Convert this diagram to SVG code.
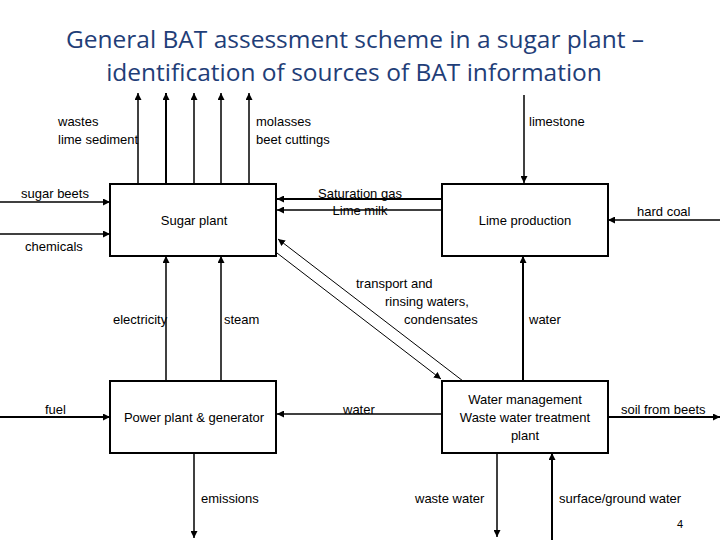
<svg xmlns="http://www.w3.org/2000/svg" width="720" height="540" viewBox="0 0 720 540">
<defs>
<marker id="a" viewBox="0 0 10 10" refX="10" refY="5" markerWidth="7" markerHeight="7" markerUnits="userSpaceOnUse" orient="auto"><path d="M0,0 L10,5 L0,10 z" fill="#000"/></marker>
<style>
.t{font-family:"Liberation Sans",Arial,sans-serif;font-size:13px;fill:#000}
.h{font-family:"Open Sans","Liberation Sans",sans-serif;font-size:24.5px;fill:#1f3e78;text-anchor:middle}
.b{fill:#fff;stroke:#000;stroke-width:2}
.c line{stroke:#000;stroke-width:1.5;marker-end:url(#a)}
.m{text-anchor:middle}
</style>
</defs>
<rect width="720" height="540" fill="#fff"/>
<text class="h" x="355" y="48">General BAT assessment scheme in a sugar plant –</text>
<text class="h" x="354" y="81">identification of sources of BAT information</text>
<g id="connectors" class="c">
<line x1="138" y1="183" x2="138" y2="93"/>
<line x1="166" y1="183" x2="166" y2="93" style="stroke-width:2"/>
<line x1="194" y1="183" x2="194" y2="93"/>
<line x1="221" y1="183" x2="221" y2="93"/>
<line x1="249" y1="183" x2="249" y2="93"/>
<line x1="524" y1="95" x2="524" y2="183"/>
<line x1="0" y1="202" x2="110" y2="202"/>
<line x1="0" y1="234" x2="110" y2="234"/>
<line x1="442" y1="199" x2="277" y2="199" style="stroke-width:2"/>
<line x1="442" y1="210" x2="277" y2="210"/>
<line x1="720" y1="220" x2="608" y2="220"/>
<line x1="166" y1="381" x2="166" y2="256"/>
<line x1="221" y1="381" x2="221" y2="256"/>
<line x1="523" y1="381" x2="523" y2="256" style="stroke-width:2"/>
<line x1="463" y1="381" x2="278" y2="239" style="stroke-width:1"/>
<line x1="277" y1="253" x2="441" y2="379" style="stroke-width:1"/>
<line x1="0" y1="417" x2="110" y2="417" style="stroke-width:2"/>
<line x1="442" y1="414" x2="277" y2="414"/>
<line x1="608" y1="417" x2="720" y2="417" style="stroke-width:2"/>
<line x1="194" y1="453" x2="194" y2="538"/>
<line x1="497" y1="453" x2="497" y2="537"/>
<line x1="552" y1="540" x2="552" y2="453" style="stroke-width:2"/>
</g>
<g id="sugar"><rect class="b" x="110" y="184" width="166" height="72"/><text class="t m" x="194" y="225">Sugar plant</text></g>
<g id="lime"><rect class="b" x="442" y="184" width="166" height="72"/><text class="t m" x="525" y="225">Lime production</text></g>
<g id="power"><rect class="b" x="110" y="381" width="166" height="72"/><text class="t m" x="194" y="422">Power plant &amp; generator</text></g>
<g id="water"><rect class="b" x="442" y="381" width="166" height="72"/><text class="t m" x="525" y="404">Water management</text><text class="t m" x="525" y="422">Waste water treatment</text><text class="t m" x="525" y="440">plant</text></g>
<g id="labels">
<text class="t" x="58" y="126">wastes</text><text class="t" x="58" y="144">lime sediment</text>
<text class="t" x="256" y="126">molasses</text><text class="t" x="256" y="144">beet cuttings</text>
<text class="t" x="529" y="126">limestone</text>
<text class="t" x="21" y="198">sugar beets</text>
<text class="t" x="25" y="251">chemicals</text>
<text class="t m" x="360" y="198">Saturation gas</text>
<text class="t m" x="360" y="215">Lime milk</text>
<text class="t" x="637" y="216">hard coal</text>
<text class="t" x="356" y="288">transport and</text>
<text class="t" x="385" y="306">rinsing waters,</text>
<text class="t" x="404" y="324">condensates</text>
<text class="t" x="113" y="324">electricity</text>
<text class="t" x="224" y="324">steam</text>
<text class="t" x="529" y="324">water</text>
<text class="t" x="45" y="414">fuel</text>
<text class="t" x="343" y="414">water</text>
<text class="t" x="621" y="414">soil from beets</text>
<text class="t" x="201" y="503">emissions</text>
<text class="t" x="415" y="503">waste water</text>
<text class="t" x="559" y="503">surface/ground water</text>
<text class="t" x="677" y="528" style="font-size:11px">4</text>
</g>
</svg>
